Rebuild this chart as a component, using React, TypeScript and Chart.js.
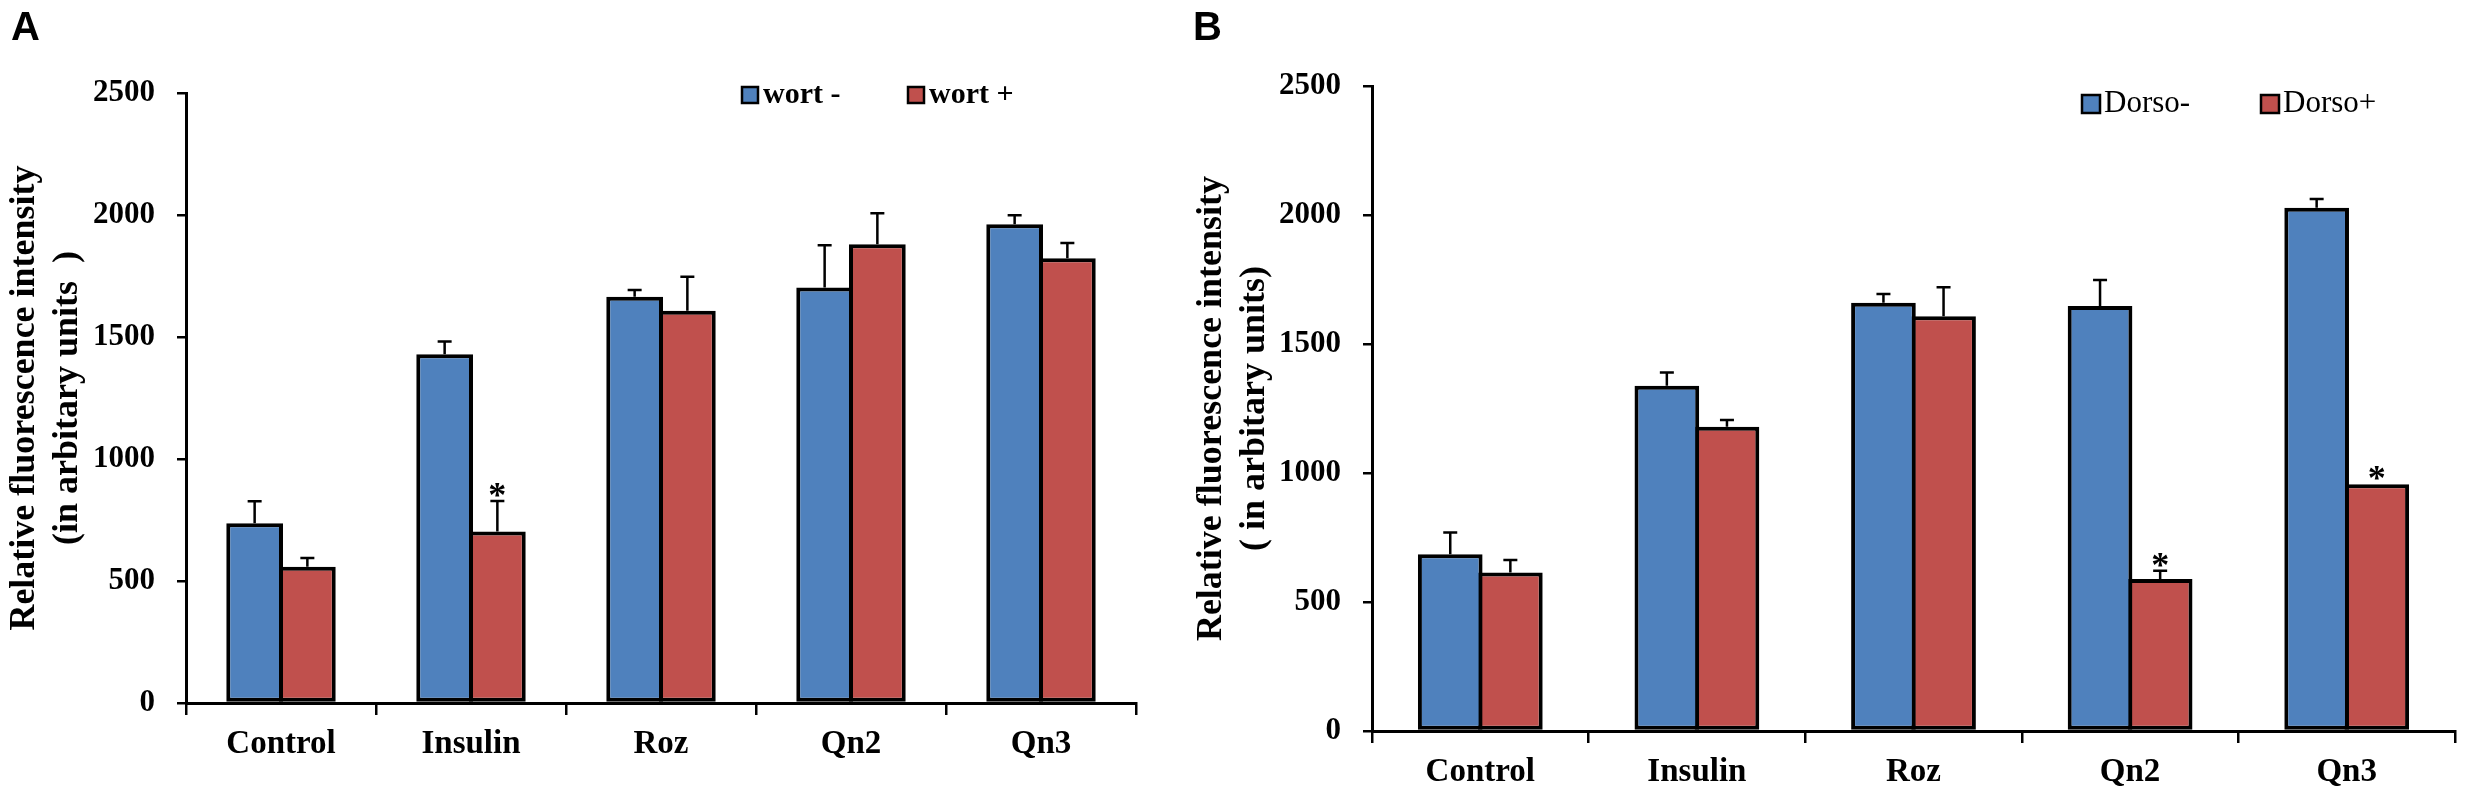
import { useEffect, useRef } from 'react';
import { Chart, registerables } from 'chart.js';

Chart.register(...registerables);

// shared axis data
const categories = ['Control', 'Insulin', 'Roz', 'Qn2', 'Qn3'];
const yTicks = [0, 500, 1000, 1500, 2000, 2500];

// panel A: wortmannin
const wortMinus = [737, 1429, 1665, 1703, 1962];
const wortMinusErr = [90, 53, 28, 173, 37];
const wortPlus = [558, 703, 1608, 1880, 1823];
const wortPlusErr = [36, 125, 139, 127, 62];
const wortPlusStar = [false, true, false, false, false];

// panel B: dorsomorphin
const dorsoMinus = [685, 1338, 1660, 1647, 2028];
const dorsoMinusErr = [84, 52, 34, 101, 34];
const dorsoPlus = [614, 1179, 1608, 589, 956];
const dorsoPlusErr = [49, 26, 112, 32, 0];
const dorsoPlusStar = [false, false, false, true, true];

const BLUE = '#4F81BD';
const RED = '#C0504D';
const SERIF = '"Liberation Serif", "Times New Roman", serif';

// draws the upward error bars and the significance stars
const errorBars = {
  id: 'errorBars',
  afterDatasetsDraw(chart: any) {
    const { ctx } = chart;
    const yScale = chart.scales.y;
    chart.data.datasets.forEach((ds: any, i: number) => {
      const meta = chart.getDatasetMeta(i);
      meta.data.forEach((bar: any, j: number) => {
        const err = ds.errors?.[j] ?? 0;
        const top = yScale.getPixelForValue(ds.data[j] + err);
        ctx.save();
        ctx.strokeStyle = '#000';
        ctx.lineWidth = 2.5;
        if (err > 0) {
          ctx.beginPath();
          ctx.moveTo(bar.x, bar.y);
          ctx.lineTo(bar.x, top);
          ctx.moveTo(bar.x - 7, top);
          ctx.lineTo(bar.x + 7, top);
          ctx.stroke();
        }
        if (ds.stars?.[j]) {
          ctx.fillStyle = '#000';
          ctx.font = `bold 36px ${SERIF}`;
          ctx.textAlign = 'center';
          ctx.textBaseline = 'alphabetic';
          ctx.fillText('*', bar.x, top + 6);
        }
        ctx.restore();
      });
    });
  },
};

// panel letter and the small boxed legend
const decor = {
  id: 'decor',
  afterDraw(chart: any, _args: any, opts: any) {
    const { ctx } = chart;
    ctx.save();
    ctx.fillStyle = '#000';
    ctx.font = 'bold 40px "Liberation Sans", Arial, sans-serif';
    ctx.textAlign = 'left';
    ctx.textBaseline = 'alphabetic';
    ctx.fillText(opts.letter, opts.letterX, opts.letterY);

    ctx.font = opts.legendFont;
    ctx.textBaseline = 'middle';
    opts.items.forEach((item: any) => {
      const b = opts.box;
      ctx.fillStyle = item.color;
      ctx.fillRect(item.x, opts.legendY - b / 2, b, b);
      ctx.strokeStyle = '#000';
      ctx.lineWidth = 2.5;
      ctx.strokeRect(item.x, opts.legendY - b / 2, b, b);
      ctx.fillStyle = '#000';
      ctx.fillText(item.label, item.x + b + opts.gap, opts.legendY);
    });
    ctx.restore();
  },
};

interface PanelProps {
  left: number;
  width: number;
  yAxisWidth: number;
  xAxisHeight: number;
  padding: { top: number; right: number; bottom: number };
  titleLines: string[];
  titlePad: number;
  series: { label: string; color: string; data: number[]; errors: number[]; stars?: boolean[] }[];
  decorOpts: any;
}

function BarPanel(p: PanelProps) {
  const canvasRef = useRef<HTMLCanvasElement | null>(null);

  useEffect(() => {
    if (!canvasRef.current) return;
    const chart = new Chart(canvasRef.current, {
      type: 'bar',
      data: {
        labels: categories,
        datasets: p.series.map((s) => ({
          label: s.label,
          data: s.data,
          errors: s.errors,
          stars: s.stars,
          backgroundColor: s.color,
          borderColor: '#000',
          borderWidth: 4,
          borderSkipped: false,
          // bars a bit wider than their slot so the pair shares one border
          categoryPercentage: 0.555,
          barPercentage: 1.076,
        })) as any,
      },
      options: {
        responsive: false,
        animation: false,
        layout: { padding: { left: 0, ...p.padding } },
        plugins: {
          legend: { display: false },
          tooltip: { enabled: false },
          decor: p.decorOpts,
        } as any,
        scales: {
          x: {
            grid: { drawOnChartArea: false, drawTicks: true, tickLength: 12, color: '#000', lineWidth: 2.5, offset: true },
            border: { color: '#000', width: 3 },
            ticks: { color: '#000', padding: 10, font: { family: SERIF, size: 33, weight: 'bold' } },
            afterFit: (scale: any) => { scale.height = p.xAxisHeight; },
          },
          y: {
            min: 0,
            max: 2500,
            afterBuildTicks: (scale: any) => { scale.ticks = yTicks.map((v) => ({ value: v })); },
            grid: { drawOnChartArea: false, drawTicks: true, tickLength: 9, color: '#000', lineWidth: 2.5 },
            border: { color: '#000', width: 3 },
            ticks: {
              color: '#000',
              padding: 22,
              font: { family: SERIF, size: 31, weight: 'bold' },
              callback: (v: any) => String(v),
            },
            title: {
              display: true,
              text: p.titleLines,
              color: '#000',
              padding: { top: p.titlePad, bottom: 0 },
              font: { family: SERIF, size: 36, weight: 'bold', lineHeight: 1.2 },
            },
            afterFit: (scale: any) => { scale.width = p.yAxisWidth; },
          },
        },
      },
      plugins: [errorBars, decor],
    });
    return () => chart.destroy();
  }, []);

  return (
    <canvas
      ref={canvasRef}
      width={p.width}
      height={797}
      style={{ position: 'absolute', left: p.left, top: 0, width: p.width, height: 797, display: 'block' }}
    />
  );
}

export default function App() {
  return (
    <div style={{ position: 'absolute', left: 0, top: 0, width: 2467, height: 797, background: '#fff' }}>
      <BarPanel
        left={0}
        width={1160}
        yAxisWidth={186}
        xAxisHeight={80}
        padding={{ top: 93, right: 24, bottom: 14 }}
        titleLines={['Relative fluorescence intensity', '(in arbitary units  )']}
        titlePad={3}
        series={[
          { label: 'wort -', color: BLUE, data: wortMinus, errors: wortMinusErr },
          { label: 'wort +', color: RED, data: wortPlus, errors: wortPlusErr, stars: wortPlusStar },
        ]}
        decorOpts={{
          letter: 'A', letterX: 11, letterY: 40,
          legendY: 95, box: 16, gap: 5,
          legendFont: `bold 30px ${SERIF}`,
          items: [
            { label: 'wort -', color: BLUE, x: 742 },
            { label: 'wort +', color: RED, x: 908 },
          ],
        }}
      />
      <BarPanel
        left={1160}
        width={1307}
        yAxisWidth={212}
        xAxisHeight={56}
        padding={{ top: 86, right: 12, bottom: 10 }}
        titleLines={['Relative fluorescence intensity', '( in arbitary units)']}
        titlePad={30}
        series={[
          { label: 'Dorso-', color: BLUE, data: dorsoMinus, errors: dorsoMinusErr },
          { label: 'Dorso+', color: RED, data: dorsoPlus, errors: dorsoPlusErr, stars: dorsoPlusStar },
        ]}
        decorOpts={{
          letter: 'B', letterX: 33, letterY: 40,
          legendY: 104, box: 18, gap: 4,
          legendFont: `31px ${SERIF}`,
          items: [
            { label: 'Dorso-', color: BLUE, x: 922 },
            { label: 'Dorso+', color: RED, x: 1101 },
          ],
        }}
      />
    </div>
  );
}
